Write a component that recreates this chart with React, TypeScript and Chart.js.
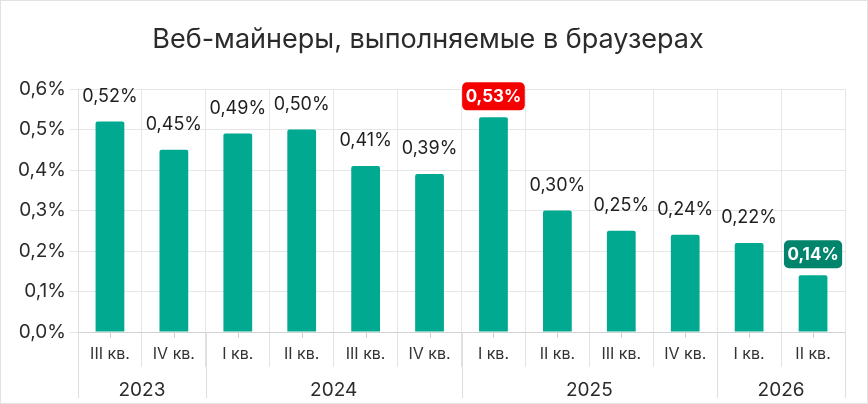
import { useEffect, useRef } from "react"
import { Chart, registerables } from "chart.js"

Chart.register(...registerables)

const quarters = ["III кв.", "IV кв.", "I кв.", "II кв.", "III кв.", "IV кв.", "I кв.", "II кв.", "III кв.", "IV кв.", "I кв.", "II кв."]
const shares = [0.52, 0.45, 0.49, 0.5, 0.41, 0.39, 0.53, 0.3, 0.25, 0.24, 0.22, 0.14]
const years = ["2023", "2024", "2025", "2026"]
const yearSpans = [2, 4, 4, 2]
const yTicks = [0, 0.1, 0.2, 0.3, 0.4, 0.5, 0.6]
// index -> badge colour for highlighted values
const highlights: Record<number, string> = { 6: "#f50000", 11: "#00846c" }

const FONT = "Inter, 'Open Sans', sans-serif"
const BAR = "#00a98f"

const fmt = (v: number, digits: number) => v.toFixed(digits).replace(".", ",") + "%"

const decorPlugin = {
  id: "decor",
  afterDraw(chart: any) {
    const { ctx, chartArea, scales } = chart
    const x = scales.x
    const bottom = chartArea.bottom
    ctx.save()

    // outer frame
    ctx.strokeStyle = "#e2e2e2"
    ctx.lineWidth = 1
    ctx.strokeRect(0.5, 0.5, chart.width - 1, chart.height - 1)

    // title
    ctx.fillStyle = "#2b2b2b"
    ctx.font = `27px ${FONT}`
    ctx.textAlign = "center"
    ctx.textBaseline = "middle"
    ctx.fillText("Веб-майнеры, выполняемые в браузерах", 428, 40)

    // small ticks at category centres
    ctx.strokeStyle = "#cfcfcf"
    quarters.forEach((_, i) => {
      const px = Math.round(x.getPixelForValue(i)) + 0.5
      ctx.beginPath()
      ctx.moveTo(px, bottom)
      ctx.lineTo(px, bottom + 6)
      ctx.stroke()
    })

    // year groups
    const edge = (i: number) => {
      if (i <= 0) return chartArea.left
      if (i >= quarters.length) return chartArea.right
      return (x.getPixelForValue(i - 1) + x.getPixelForValue(i)) / 2
    }
    let start = 0
    ctx.strokeStyle = "#dedede"
    ctx.fillStyle = "#2b2b2b"
    ctx.font = `19px ${FONT}`
    years.forEach((label, g) => {
      const end = start + yearSpans[g]
      const x0 = edge(start)
      const x1 = edge(end)
      for (const px of [x0, x1]) {
        ctx.beginPath()
        ctx.moveTo(Math.round(px) + 0.5, bottom)
        ctx.lineTo(Math.round(px) + 0.5, bottom + 66)
        ctx.stroke()
      }
      ctx.fillText(label, (x0 + x1) / 2, bottom + 58)
      start = end
    })
    ctx.restore()
  },
  afterDatasetsDraw(chart: any) {
    const { ctx } = chart
    const meta = chart.getDatasetMeta(0)
    ctx.save()
    ctx.textAlign = "center"
    ctx.textBaseline = "middle"
    meta.data.forEach((bar: any, i: number) => {
      const text = fmt(shares[i], 2)
      const badge = highlights[i]
      if (badge) {
        ctx.font = `bold 17px ${FONT}`
        const w = ctx.measureText(text).width + 7
        const h = 28
        const cy = bar.y - 21
        ctx.fillStyle = badge
        ctx.beginPath()
        ctx.roundRect(bar.x - w / 2, cy - h / 2, w, h, 5)
        ctx.fill()
        ctx.fillStyle = "#ffffff"
        ctx.fillText(text, bar.x, cy + 1)
      } else {
        ctx.font = `18px ${FONT}`
        ctx.fillStyle = "#1f1f1f"
        ctx.fillText(text, bar.x, bar.y - 25)
      }
    })
    ctx.restore()
  },
}

export default function App() {
  const chartRef = useRef<HTMLCanvasElement>(null)
  const chartInstance = useRef<Chart | null>(null)

  useEffect(() => {
    if (!chartRef.current) return
    if (chartInstance.current) chartInstance.current.destroy()

    chartInstance.current = new Chart(chartRef.current, {
      type: "bar",
      data: {
        labels: quarters,
        datasets: [
          {
            data: shares,
            backgroundColor: BAR,
            borderRadius: { topLeft: 2, topRight: 2 },
            borderSkipped: "bottom",
            barPercentage: 0.9,
            categoryPercentage: 0.5,
          },
        ],
      },
      options: {
        animation: false,
        responsive: true,
        maintainAspectRatio: false,
        layout: { padding: { top: 89, right: 23, bottom: 0, left: 0 } },
        plugins: {
          legend: { display: false },
          tooltip: { enabled: false },
          title: { display: false },
        },
        scales: {
          x: {
            afterFit: (scale: any) => {
              scale.height = 72
            },
            grid: { offset: true, color: "#e6e6e6", tickLength: 35, tickColor: "#e2e2e2" },
            border: { color: "#d2d2d2" },
            ticks: {
              color: "#333333",
              font: { family: FONT, size: 16 },
              padding: -22,
              maxRotation: 0,
              autoSkip: false,
            },
          },
          y: {
            min: 0,
            max: 0.6,
            afterFit: (scale: any) => {
              scale.width = 78
            },
            afterBuildTicks: (scale: any) => {
              scale.ticks = yTicks.map((value) => ({ value }))
            },
            grid: { color: "#e6e6e6", tickLength: 8 },
            border: { color: "#dedede" },
            ticks: {
              color: "#2b2b2b",
              font: { family: FONT, size: 19 },
              padding: 4,
              callback: (value: any) => fmt(Number(value), 1),
            },
          },
        },
      },
      plugins: [decorPlugin],
    })

    return () => {
      if (chartInstance.current) {
        chartInstance.current.destroy()
        chartInstance.current = null
      }
    }
  }, [])

  return (
    <div style={{ position: "absolute", left: 0, top: 0, width: 868, height: 404, background: "#fff" }}>
      <canvas ref={chartRef} />
    </div>
  )
}
